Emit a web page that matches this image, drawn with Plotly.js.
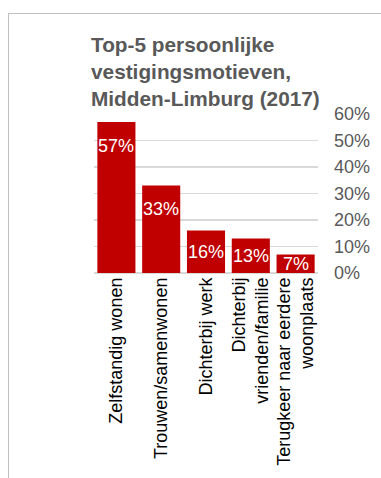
<!DOCTYPE html>
<html>
<head>
<meta charset="utf-8">
<script src="https://cdn.plot.ly/plotly-3.0.1.min.js"></script>
<style>
html, body { margin: 0; padding: 0; background: #ffffff; }
#frame { position: absolute; left: 8px; top: 13px; width: 373px; height: 465px;
  border-top: 1px solid #bfbfbf; border-left: 1px solid #bfbfbf; box-sizing: border-box; }
#chart { position: absolute; left: 0; top: 0; width: 381px; height: 478px; }
</style>
</head>
<body>
<div id="frame"></div>
<div id="chart"></div>
<script>
var categories = [
  "Zelfstandig wonen",
  "Trouwen/samenwonen",
  "Dichterbij werk",
  "Dichterbij<br>vrienden/familie",
  "Terugkeer naar eerdere<br>woonplaats"
];
var values = [57, 33, 16, 13, 7];
var yTickValues = [0, 10, 20, 30, 40, 50, 60];
var yTickLabels = ["0%", "10%", "20%", "30%", "40%", "50%", "60%"];
var titleText = "Top-5 persoonlijke<br>vestigingsmotieven,<br>Midden-Limburg (2017)";

var FONT = "Liberation Sans, Arial, sans-serif";

var trace = {
  type: "bar",
  x: categories,
  y: values,
  marker: { color: "#c00000" },
  hoverinfo: "none"
};

var labelAnnotations = values.map(function (v, i) {
  return {
    x: categories[i],
    y: Math.max(v - 9, v / 2),
    xref: "x", yref: "y",
    text: v + "%",
    showarrow: false,
    yanchor: "middle",
    xanchor: "center",
    font: { family: FONT, size: 18, color: "#ffffff" }
  };
});

var layout = {
  width: 381,
  height: 478,
  margin: { l: 94, r: 63, t: 114, b: 205 },
  paper_bgcolor: "rgba(0,0,0,0)",
  plot_bgcolor: "rgba(0,0,0,0)",
  showlegend: false,
  bargap: 0.15,
  title: {
    text: titleText,
    xref: "container", yref: "container",
    x: 91 / 381, xanchor: "left",
    y: 1 - 52 / 478, yanchor: "top",
    font: { family: FONT, size: 20.8, color: "#595959", weight: "bold" }
  },
  xaxis: {
    type: "category",
    tickangle: -90,
    tickfont: { family: FONT, size: 18, color: "#000000" },
    showgrid: false,
    showline: false,
    ticks: "",
    zeroline: false
  },
  yaxis: {
    side: "right",
    range: [0, 60],
    tickvals: yTickValues,
    ticktext: yTickLabels,
    tickfont: { family: FONT, size: 18, color: "#595959" },
    gridcolor: "#d9d9d9",
    gridwidth: 1.5,
    zeroline: true,
    zerolinecolor: "#d9d9d9",
    zerolinewidth: 1.5,
    showline: false,
    ticks: "",
    ticklabelstandoff: 15,
    fixedrange: true
  },
  annotations: labelAnnotations,
  font: { family: FONT }
};

Plotly.newPlot("chart", [trace], layout, { displayModeBar: false, staticPlot: true });
</script>
</body>
</html>
